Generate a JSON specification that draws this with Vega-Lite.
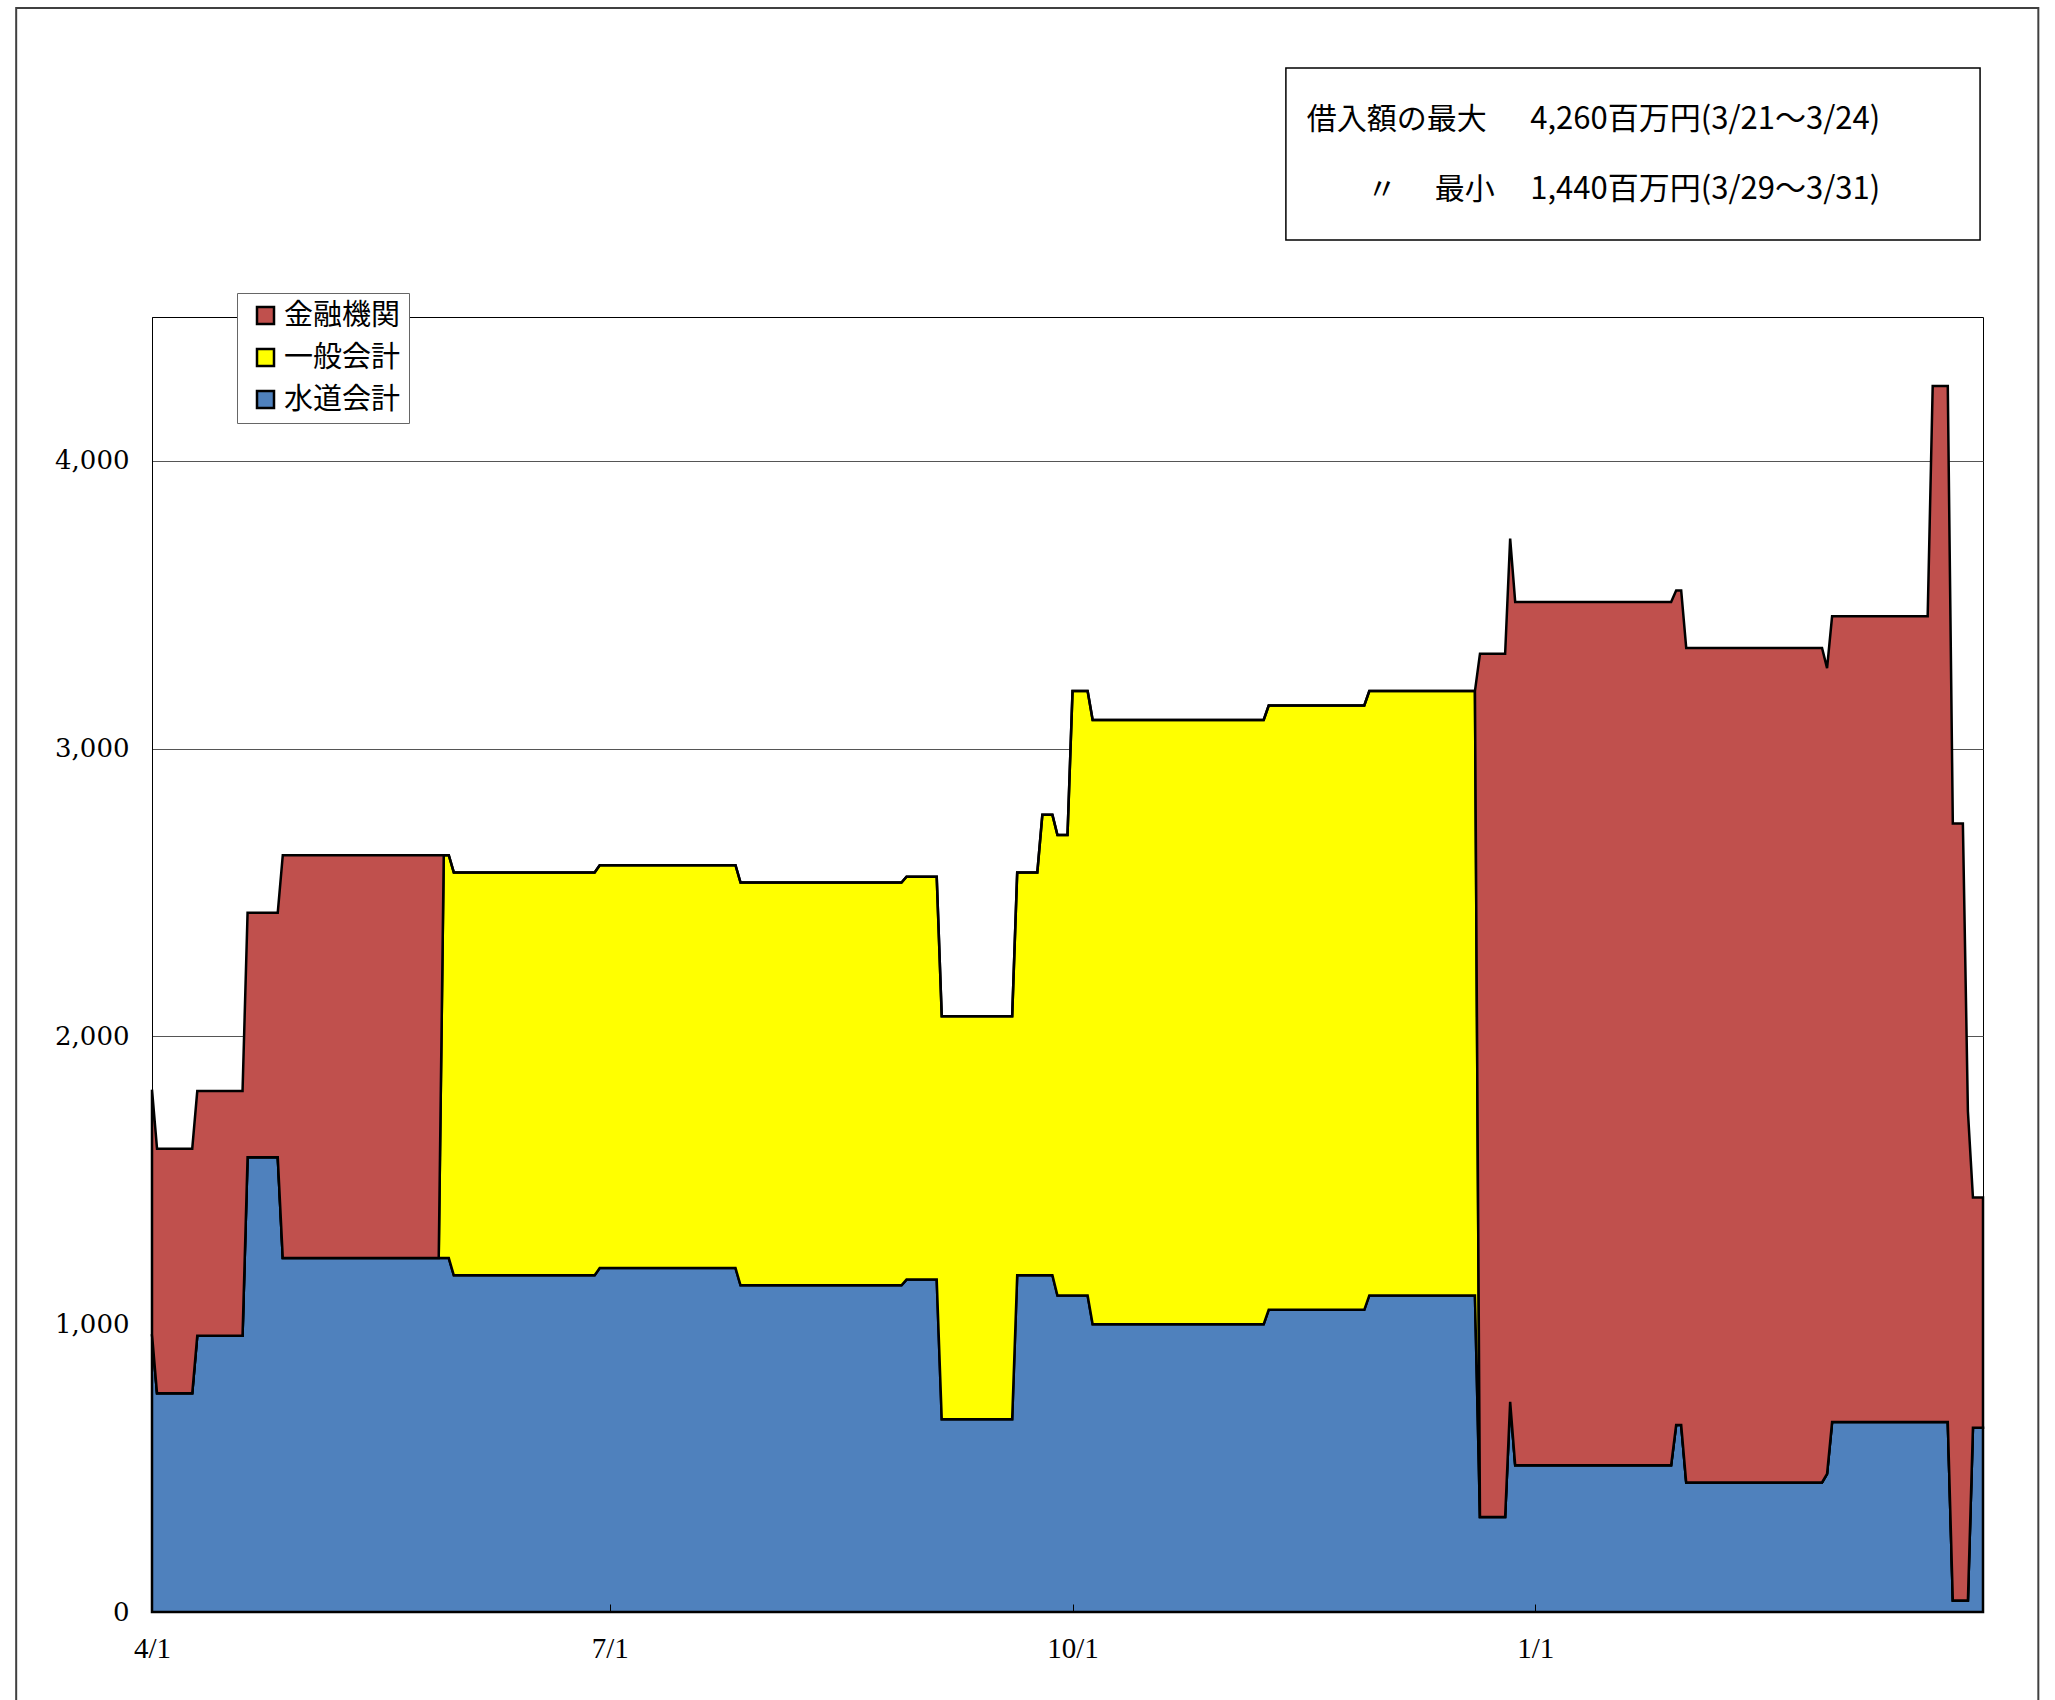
{
  "$schema": "https://vega.github.io/schema/vega-lite/v6.json",
  "width": 1831,
  "height": 1295,
  "autosize": {"type": "none"},
  "padding": {"left": 152, "top": 317, "right": 72, "bottom": 88},
  "background": "white",
  "config": {
    "font": "Noto Sans CJK JP",
    "view": {"stroke": "#000000", "strokeWidth": 1}
  },
  "layer": [
    {
      "data": {"values": [{}]},
      "mark": {"type": "rect", "fill": "white", "fillOpacity": 0, "stroke": "#404040", "strokeWidth": 2},
      "encoding": {
        "x": {"datum": {"year": 2010, "month": 3, "date": 5, "utc": true}, "type": "temporal"},
        "x2": {"datum": {"year": 2011, "month": 4, "date": 11, "utc": true}},
        "y": {"datum": 5574, "type": "quantitative"},
        "y2": {"datum": -400}
      }
    },
    {
      "data": {"values": [{}]},
      "mark": {"type": "rect", "fill": "white", "stroke": "#000000", "strokeWidth": 1.5},
      "encoding": {
        "x": {"datum": {"year": 2010, "month": 11, "date": 12, "hours": 10, "utc": true}, "type": "temporal"},
        "x2": {"datum": {"year": 2011, "month": 3, "date": 30, "hours": 10, "utc": true}},
        "y": {"datum": 5365, "type": "quantitative"},
        "y2": {"datum": 4768}
      }
    },
    {
      "data": {
        "values": [
          {"date": "2010-04-01", "series": "水道会計", "value": 965}, {"date": "2010-04-01", "series": "一般会計", "value": 0}, {"date": "2010-04-01", "series": "金融機関", "value": 850},
          {"date": "2010-04-02", "series": "水道会計", "value": 760}, {"date": "2010-04-02", "series": "一般会計", "value": 0}, {"date": "2010-04-02", "series": "金融機関", "value": 850},
          {"date": "2010-04-09", "series": "水道会計", "value": 760}, {"date": "2010-04-09", "series": "一般会計", "value": 0}, {"date": "2010-04-09", "series": "金融機関", "value": 850},
          {"date": "2010-04-10", "series": "水道会計", "value": 960}, {"date": "2010-04-10", "series": "一般会計", "value": 0}, {"date": "2010-04-10", "series": "金融機関", "value": 850},
          {"date": "2010-04-19", "series": "水道会計", "value": 960}, {"date": "2010-04-19", "series": "一般会計", "value": 0}, {"date": "2010-04-19", "series": "金融機関", "value": 850},
          {"date": "2010-04-20", "series": "水道会計", "value": 1580}, {"date": "2010-04-20", "series": "一般会計", "value": 0}, {"date": "2010-04-20", "series": "金融機関", "value": 850},
          {"date": "2010-04-26", "series": "水道会計", "value": 1580}, {"date": "2010-04-26", "series": "一般会計", "value": 0}, {"date": "2010-04-26", "series": "金融機関", "value": 850},
          {"date": "2010-04-27", "series": "水道会計", "value": 1230}, {"date": "2010-04-27", "series": "一般会計", "value": 0}, {"date": "2010-04-27", "series": "金融機関", "value": 1400},
          {"date": "2010-05-28", "series": "水道会計", "value": 1230}, {"date": "2010-05-28", "series": "一般会計", "value": 0}, {"date": "2010-05-28", "series": "金融機関", "value": 1400},
          {"date": "2010-05-29", "series": "水道会計", "value": 1230}, {"date": "2010-05-29", "series": "一般会計", "value": 1400}, {"date": "2010-05-29", "series": "金融機関", "value": 0},
          {"date": "2010-05-30", "series": "水道会計", "value": 1230}, {"date": "2010-05-30", "series": "一般会計", "value": 1400}, {"date": "2010-05-30", "series": "金融機関", "value": 0},
          {"date": "2010-05-31", "series": "水道会計", "value": 1170}, {"date": "2010-05-31", "series": "一般会計", "value": 1400}, {"date": "2010-05-31", "series": "金融機関", "value": 0},
          {"date": "2010-06-28", "series": "水道会計", "value": 1170}, {"date": "2010-06-28", "series": "一般会計", "value": 1400}, {"date": "2010-06-28", "series": "金融機関", "value": 0},
          {"date": "2010-06-29", "series": "水道会計", "value": 1195}, {"date": "2010-06-29", "series": "一般会計", "value": 1400}, {"date": "2010-06-29", "series": "金融機関", "value": 0},
          {"date": "2010-07-26", "series": "水道会計", "value": 1195}, {"date": "2010-07-26", "series": "一般会計", "value": 1400}, {"date": "2010-07-26", "series": "金融機関", "value": 0},
          {"date": "2010-07-27", "series": "水道会計", "value": 1135}, {"date": "2010-07-27", "series": "一般会計", "value": 1400}, {"date": "2010-07-27", "series": "金融機関", "value": 0},
          {"date": "2010-08-28", "series": "水道会計", "value": 1135}, {"date": "2010-08-28", "series": "一般会計", "value": 1400}, {"date": "2010-08-28", "series": "金融機関", "value": 0},
          {"date": "2010-08-29", "series": "水道会計", "value": 1155}, {"date": "2010-08-29", "series": "一般会計", "value": 1400}, {"date": "2010-08-29", "series": "金融機関", "value": 0},
          {"date": "2010-09-04", "series": "水道会計", "value": 1155}, {"date": "2010-09-04", "series": "一般会計", "value": 1400}, {"date": "2010-09-04", "series": "金融機関", "value": 0},
          {"date": "2010-09-05", "series": "水道会計", "value": 670}, {"date": "2010-09-05", "series": "一般会計", "value": 1400}, {"date": "2010-09-05", "series": "金融機関", "value": 0},
          {"date": "2010-09-19", "series": "水道会計", "value": 670}, {"date": "2010-09-19", "series": "一般会計", "value": 1400}, {"date": "2010-09-19", "series": "金融機関", "value": 0},
          {"date": "2010-09-20", "series": "水道会計", "value": 1170}, {"date": "2010-09-20", "series": "一般会計", "value": 1400}, {"date": "2010-09-20", "series": "金融機関", "value": 0},
          {"date": "2010-09-24", "series": "水道会計", "value": 1170}, {"date": "2010-09-24", "series": "一般会計", "value": 1400}, {"date": "2010-09-24", "series": "金融機関", "value": 0},
          {"date": "2010-09-25", "series": "水道会計", "value": 1170}, {"date": "2010-09-25", "series": "一般会計", "value": 1600}, {"date": "2010-09-25", "series": "金融機関", "value": 0},
          {"date": "2010-09-27", "series": "水道会計", "value": 1170}, {"date": "2010-09-27", "series": "一般会計", "value": 1600}, {"date": "2010-09-27", "series": "金融機関", "value": 0},
          {"date": "2010-09-28", "series": "水道会計", "value": 1100}, {"date": "2010-09-28", "series": "一般会計", "value": 1600}, {"date": "2010-09-28", "series": "金融機関", "value": 0},
          {"date": "2010-09-30", "series": "水道会計", "value": 1100}, {"date": "2010-09-30", "series": "一般会計", "value": 1600}, {"date": "2010-09-30", "series": "金融機関", "value": 0},
          {"date": "2010-10-01", "series": "水道会計", "value": 1100}, {"date": "2010-10-01", "series": "一般会計", "value": 2100}, {"date": "2010-10-01", "series": "金融機関", "value": 0},
          {"date": "2010-10-04", "series": "水道会計", "value": 1100}, {"date": "2010-10-04", "series": "一般会計", "value": 2100}, {"date": "2010-10-04", "series": "金融機関", "value": 0},
          {"date": "2010-10-05", "series": "水道会計", "value": 1000}, {"date": "2010-10-05", "series": "一般会計", "value": 2100}, {"date": "2010-10-05", "series": "金融機関", "value": 0},
          {"date": "2010-11-08", "series": "水道会計", "value": 1000}, {"date": "2010-11-08", "series": "一般会計", "value": 2100}, {"date": "2010-11-08", "series": "金融機関", "value": 0},
          {"date": "2010-11-09", "series": "水道会計", "value": 1050}, {"date": "2010-11-09", "series": "一般会計", "value": 2100}, {"date": "2010-11-09", "series": "金融機関", "value": 0},
          {"date": "2010-11-28", "series": "水道会計", "value": 1050}, {"date": "2010-11-28", "series": "一般会計", "value": 2100}, {"date": "2010-11-28", "series": "金融機関", "value": 0},
          {"date": "2010-11-29", "series": "水道会計", "value": 1100}, {"date": "2010-11-29", "series": "一般会計", "value": 2100}, {"date": "2010-11-29", "series": "金融機関", "value": 0},
          {"date": "2010-12-20", "series": "水道会計", "value": 1100}, {"date": "2010-12-20", "series": "一般会計", "value": 2100}, {"date": "2010-12-20", "series": "金融機関", "value": 0},
          {"date": "2010-12-21", "series": "水道会計", "value": 330}, {"date": "2010-12-21", "series": "一般会計", "value": 0}, {"date": "2010-12-21", "series": "金融機関", "value": 3000},
          {"date": "2010-12-26", "series": "水道会計", "value": 330}, {"date": "2010-12-26", "series": "一般会計", "value": 0}, {"date": "2010-12-26", "series": "金融機関", "value": 3000},
          {"date": "2010-12-27", "series": "水道会計", "value": 730}, {"date": "2010-12-27", "series": "一般会計", "value": 0}, {"date": "2010-12-27", "series": "金融機関", "value": 3000},
          {"date": "2010-12-28", "series": "水道会計", "value": 510}, {"date": "2010-12-28", "series": "一般会計", "value": 0}, {"date": "2010-12-28", "series": "金融機関", "value": 3000},
          {"date": "2011-01-28", "series": "水道会計", "value": 510}, {"date": "2011-01-28", "series": "一般会計", "value": 0}, {"date": "2011-01-28", "series": "金融機関", "value": 3000},
          {"date": "2011-01-29", "series": "水道会計", "value": 650}, {"date": "2011-01-29", "series": "一般会計", "value": 0}, {"date": "2011-01-29", "series": "金融機関", "value": 2900},
          {"date": "2011-01-30", "series": "水道会計", "value": 650}, {"date": "2011-01-30", "series": "一般会計", "value": 0}, {"date": "2011-01-30", "series": "金融機関", "value": 2900},
          {"date": "2011-01-31", "series": "水道会計", "value": 450}, {"date": "2011-01-31", "series": "一般会計", "value": 0}, {"date": "2011-01-31", "series": "金融機関", "value": 2900},
          {"date": "2011-02-27", "series": "水道会計", "value": 450}, {"date": "2011-02-27", "series": "一般会計", "value": 0}, {"date": "2011-02-27", "series": "金融機関", "value": 2900},
          {"date": "2011-02-28", "series": "水道会計", "value": 480}, {"date": "2011-02-28", "series": "一般会計", "value": 0}, {"date": "2011-02-28", "series": "金融機関", "value": 2800},
          {"date": "2011-03-01", "series": "水道会計", "value": 660}, {"date": "2011-03-01", "series": "一般会計", "value": 0}, {"date": "2011-03-01", "series": "金融機関", "value": 2800},
          {"date": "2011-03-20", "series": "水道会計", "value": 660}, {"date": "2011-03-20", "series": "一般会計", "value": 0}, {"date": "2011-03-20", "series": "金融機関", "value": 2800},
          {"date": "2011-03-21", "series": "水道会計", "value": 660}, {"date": "2011-03-21", "series": "一般会計", "value": 0}, {"date": "2011-03-21", "series": "金融機関", "value": 3600},
          {"date": "2011-03-24", "series": "水道会計", "value": 660}, {"date": "2011-03-24", "series": "一般会計", "value": 0}, {"date": "2011-03-24", "series": "金融機関", "value": 3600},
          {"date": "2011-03-25", "series": "水道会計", "value": 40}, {"date": "2011-03-25", "series": "一般会計", "value": 0}, {"date": "2011-03-25", "series": "金融機関", "value": 2700},
          {"date": "2011-03-27", "series": "水道会計", "value": 40}, {"date": "2011-03-27", "series": "一般会計", "value": 0}, {"date": "2011-03-27", "series": "金融機関", "value": 2700},
          {"date": "2011-03-28", "series": "水道会計", "value": 40}, {"date": "2011-03-28", "series": "一般会計", "value": 0}, {"date": "2011-03-28", "series": "金融機関", "value": 1700},
          {"date": "2011-03-29", "series": "水道会計", "value": 640}, {"date": "2011-03-29", "series": "一般会計", "value": 0}, {"date": "2011-03-29", "series": "金融機関", "value": 800},
          {"date": "2011-03-31", "series": "水道会計", "value": 640}, {"date": "2011-03-31", "series": "一般会計", "value": 0}, {"date": "2011-03-31", "series": "金融機関", "value": 800}
        ]
      },
      "transform": [
        {"calculate": "indexof(['水道会計','一般会計','金融機関'], datum.series)", "as": "ord"}
      ],
      "mark": {"type": "area", "interpolate": "linear", "stroke": "#000000", "strokeWidth": 2.5, "opacity": 1, "strokeJoin": "miter"},
      "encoding": {
        "x": {
          "field": "date",
          "type": "temporal",
          "scale": {"type": "utc", "domain": [{"year": 2010, "month": 4, "date": 1, "utc": true}, {"year": 2011, "month": 3, "date": 31, "utc": true}]},
          "axis": {
            "title": null,
            "values": [
              {"year": 2010, "month": 4, "date": 1, "utc": true},
              {"year": 2010, "month": 7, "date": 1, "utc": true},
              {"year": 2010, "month": 10, "date": 1, "utc": true},
              {"year": 2011, "month": 1, "date": 1, "utc": true}
            ],
            "format": "%-m/%-d",
            "labelFont": "Liberation Serif",
            "labelFontSize": 29,
            "labelColor": "#000000",
            "labelFlush": false,
            "labelOverlap": false,
            "labelPadding": 30,
            "ticks": true,
            "tickSize": -8,
            "tickColor": "#000000",
            "domainColor": "#000000",
            "grid": false,
            "zindex": 1
          }
        },
        "y": {
          "field": "value",
          "type": "quantitative",
          "stack": "zero",
          "scale": {"domain": [0, 4500], "nice": false},
          "axis": {
            "title": null,
            "values": [0, 1000, 2000, 3000, 4000],
            "format": ",.0f",
            "labelFont": "DejaVu Serif",
            "labelFontSize": 26,
            "labelColor": "#000000",
            "labelPadding": 23,
            "ticks": false,
            "domainColor": "#000000",
            "grid": true,
            "gridColor": "#555555",
            "gridWidth": 1
          }
        },
        "color": {
          "field": "series",
          "type": "nominal",
          "scale": {"domain": ["金融機関", "一般会計", "水道会計"], "range": ["#C0504D", "#FFFF00", "#4F81BD"]},
          "legend": {
            "title": null,
            "orient": "none",
            "legendX": 85,
            "legendY": -24,
            "fillColor": "white",
            "strokeColor": "#666666",
            "padding": 8,
            "symbolType": "square",
            "symbolSize": 289,
            "symbolStrokeColor": "#000000",
            "symbolStrokeWidth": 2.5,
            "symbolOpacity": 1,
            "symbolOffset": 6,
            "labelFont": "Noto Sans CJK JP",
            "labelFontSize": 29,
            "labelColor": "#000000",
            "labelOffset": 4,
            "rowPadding": 12
          }
        },
        "order": {"field": "ord", "type": "quantitative"}
      }
    },
    {
      "data": {"values": [{}]},
      "mark": {"type": "text", "text": "借入額の最大", "align": "left", "baseline": "middle", "font": "Noto Sans CJK JP", "fontSize": 30, "color": "#000000"},
      "encoding": {
        "x": {"datum": {"year": 2010, "month": 11, "date": 16, "hours": 14, "utc": true}, "type": "temporal"},
        "y": {"datum": 5185, "type": "quantitative"}
      }
    },
    {
      "data": {"values": [{}]},
      "mark": {"type": "text", "text": "4,260百万円(3/21～3/24)", "align": "left", "baseline": "middle", "font": "Noto Sans CJK JP", "fontSize": 31, "color": "#000000"},
      "encoding": {
        "x": {"datum": {"year": 2010, "month": 12, "date": 31, "utc": true}, "type": "temporal"},
        "y": {"datum": 5185, "type": "quantitative"}
      }
    },
    {
      "data": {"values": [{}]},
      "mark": {"type": "text", "text": "〃", "align": "center", "baseline": "middle", "font": "Noto Sans CJK JP", "fontSize": 30, "color": "#000000"},
      "encoding": {
        "x": {"datum": {"year": 2010, "month": 12, "date": 1, "hours": 12, "utc": true}, "type": "temporal"},
        "y": {"datum": 4941, "type": "quantitative"}
      }
    },
    {
      "data": {"values": [{}]},
      "mark": {"type": "text", "text": "最小", "align": "left", "baseline": "middle", "font": "Noto Sans CJK JP", "fontSize": 30, "color": "#000000"},
      "encoding": {
        "x": {"datum": {"year": 2010, "month": 12, "date": 12, "utc": true}, "type": "temporal"},
        "y": {"datum": 4941, "type": "quantitative"}
      }
    },
    {
      "data": {"values": [{}]},
      "mark": {"type": "text", "text": "1,440百万円(3/29～3/31)", "align": "left", "baseline": "middle", "font": "Noto Sans CJK JP", "fontSize": 31, "color": "#000000"},
      "encoding": {
        "x": {"datum": {"year": 2010, "month": 12, "date": 31, "utc": true}, "type": "temporal"},
        "y": {"datum": 4941, "type": "quantitative"}
      }
    }
  ]
}
